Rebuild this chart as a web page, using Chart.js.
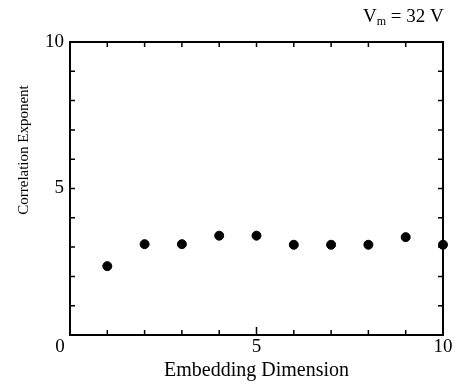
<!DOCTYPE html>
<html>
<head>
<meta charset="utf-8">
<script src="https://cdn.jsdelivr.net/npm/chart.js@4/dist/chart.umd.min.js"></script>
<style>
  html, body { margin: 0; padding: 0; background: #fff; }
  #wrap { width: 456px; height: 385px; }
</style>
</head>
<body>
<div id="wrap"><canvas id="chart"></canvas></div>
<script>
// dimensions sur l'axe x, exposant de corrélation sur y
const embeddingDims = [1, 2, 3, 4, 5, 6, 7, 8, 9, 10];
const corrExponent = [2.35, 3.10, 3.10, 3.39, 3.39, 3.08, 3.08, 3.08, 3.34, 3.08];
const xTickLabels = [5, 10];   // le 0 est dessiné à part, décalé à gauche
const yTickLabels = [5, 10];

const serif = '"Liberation Serif", "DejaVu Serif", serif';

// cadre + petites graduations vers l'intérieur + textes annexes
const framePlugin = {
    id: 'frame',
    afterDraw(chart) {
        const ctx = chart.ctx;
        const a = chart.chartArea;
        const xs = chart.scales.x;
        const ys = chart.scales.y;
        ctx.save();
        ctx.strokeStyle = '#000';
        ctx.lineWidth = 2;
        ctx.strokeRect(a.left, a.top, a.right - a.left, a.bottom - a.top);
        ctx.lineWidth = 1.5;
        ctx.beginPath();
        for (let v = 1; v < 10; v++) {
            const px = xs.getPixelForValue(v);
            const len = v === 5 ? 8 : 5;
            ctx.moveTo(px, a.bottom); ctx.lineTo(px, a.bottom - len);
            ctx.moveTo(px, a.top); ctx.lineTo(px, a.top + 5);
            const py = ys.getPixelForValue(v);
            ctx.moveTo(a.left, py); ctx.lineTo(a.left + 5, py);
            ctx.moveTo(a.right, py); ctx.lineTo(a.right - 5, py);
        }
        ctx.stroke();

        ctx.fillStyle = '#000';

        // origine commune "0"
        ctx.font = '19px ' + serif;
        ctx.textAlign = 'center';
        ctx.textBaseline = 'middle';
        ctx.fillText('0', xs.getPixelForValue(0) - 10, a.bottom + 12);

        // titre de l'axe y, placé plus haut que le centre
        ctx.save();
        ctx.translate(24, 150);
        ctx.rotate(-Math.PI / 2);
        ctx.font = '15px ' + serif;
        ctx.fillText('Correlation Exponent', 0, 0);
        ctx.restore();

        // étiquette V_m = 32 V
        ctx.textBaseline = 'alphabetic';
        ctx.textAlign = 'left';
        let x = 363;
        const y = 22;
        ctx.font = '19px ' + serif;
        ctx.fillText('V', x, y);
        x += ctx.measureText('V').width;
        ctx.font = '12px ' + serif;
        ctx.fillText('m', x, y + 3);
        x += ctx.measureText('m').width;
        ctx.font = '19px ' + serif;
        ctx.fillText(' = 32 V', x, y);
        ctx.restore();
    }
};

const ctx = document.getElementById('chart').getContext('2d');
new Chart(ctx, {
    type: 'scatter',
    data: {
        datasets: [{
            data: embeddingDims.map((d, i) => ({ x: d, y: corrExponent[i] })),
            backgroundColor: '#000',
            borderColor: '#000',
            pointRadius: 4.5,
            pointHoverRadius: 4.5,
            clip: false
        }]
    },
    options: {
        responsive: true,
        maintainAspectRatio: false,
        animation: false,
        layout: { padding: { left: 0, right: 13, top: 42, bottom: 0 } },
        plugins: {
            legend: { display: false },
            tooltip: { enabled: false }
        },
        scales: {
            x: {
                type: 'linear',
                min: 0,
                max: 10,
                afterFit: scale => { scale.height = 50; },
                grid: { display: false, drawTicks: false },
                border: { display: false },
                ticks: {
                    stepSize: 1,
                    autoSkip: false,
                    maxRotation: 0,
                    padding: 1,
                    color: '#000',
                    font: { family: serif, size: 19 },
                    callback: v => xTickLabels.includes(v) ? String(v) : ''
                },
                title: {
                    display: true,
                    text: 'Embedding Dimension',
                    color: '#000',
                    font: { family: serif, size: 20 },
                    padding: { top: 0, bottom: 2 }
                }
            },
            y: {
                type: 'linear',
                min: 0,
                max: 10,
                afterFit: scale => { scale.width = 70; },
                grid: { display: false, drawTicks: false },
                border: { display: false },
                ticks: {
                    stepSize: 1,
                    autoSkip: false,
                    padding: 6,
                    color: '#000',
                    font: { family: serif, size: 19 },
                    callback: v => yTickLabels.includes(v) ? String(v) : ''
                },
                title: { display: false }
            }
        }
    },
    plugins: [framePlugin]
});
</script>
</body>
</html>
